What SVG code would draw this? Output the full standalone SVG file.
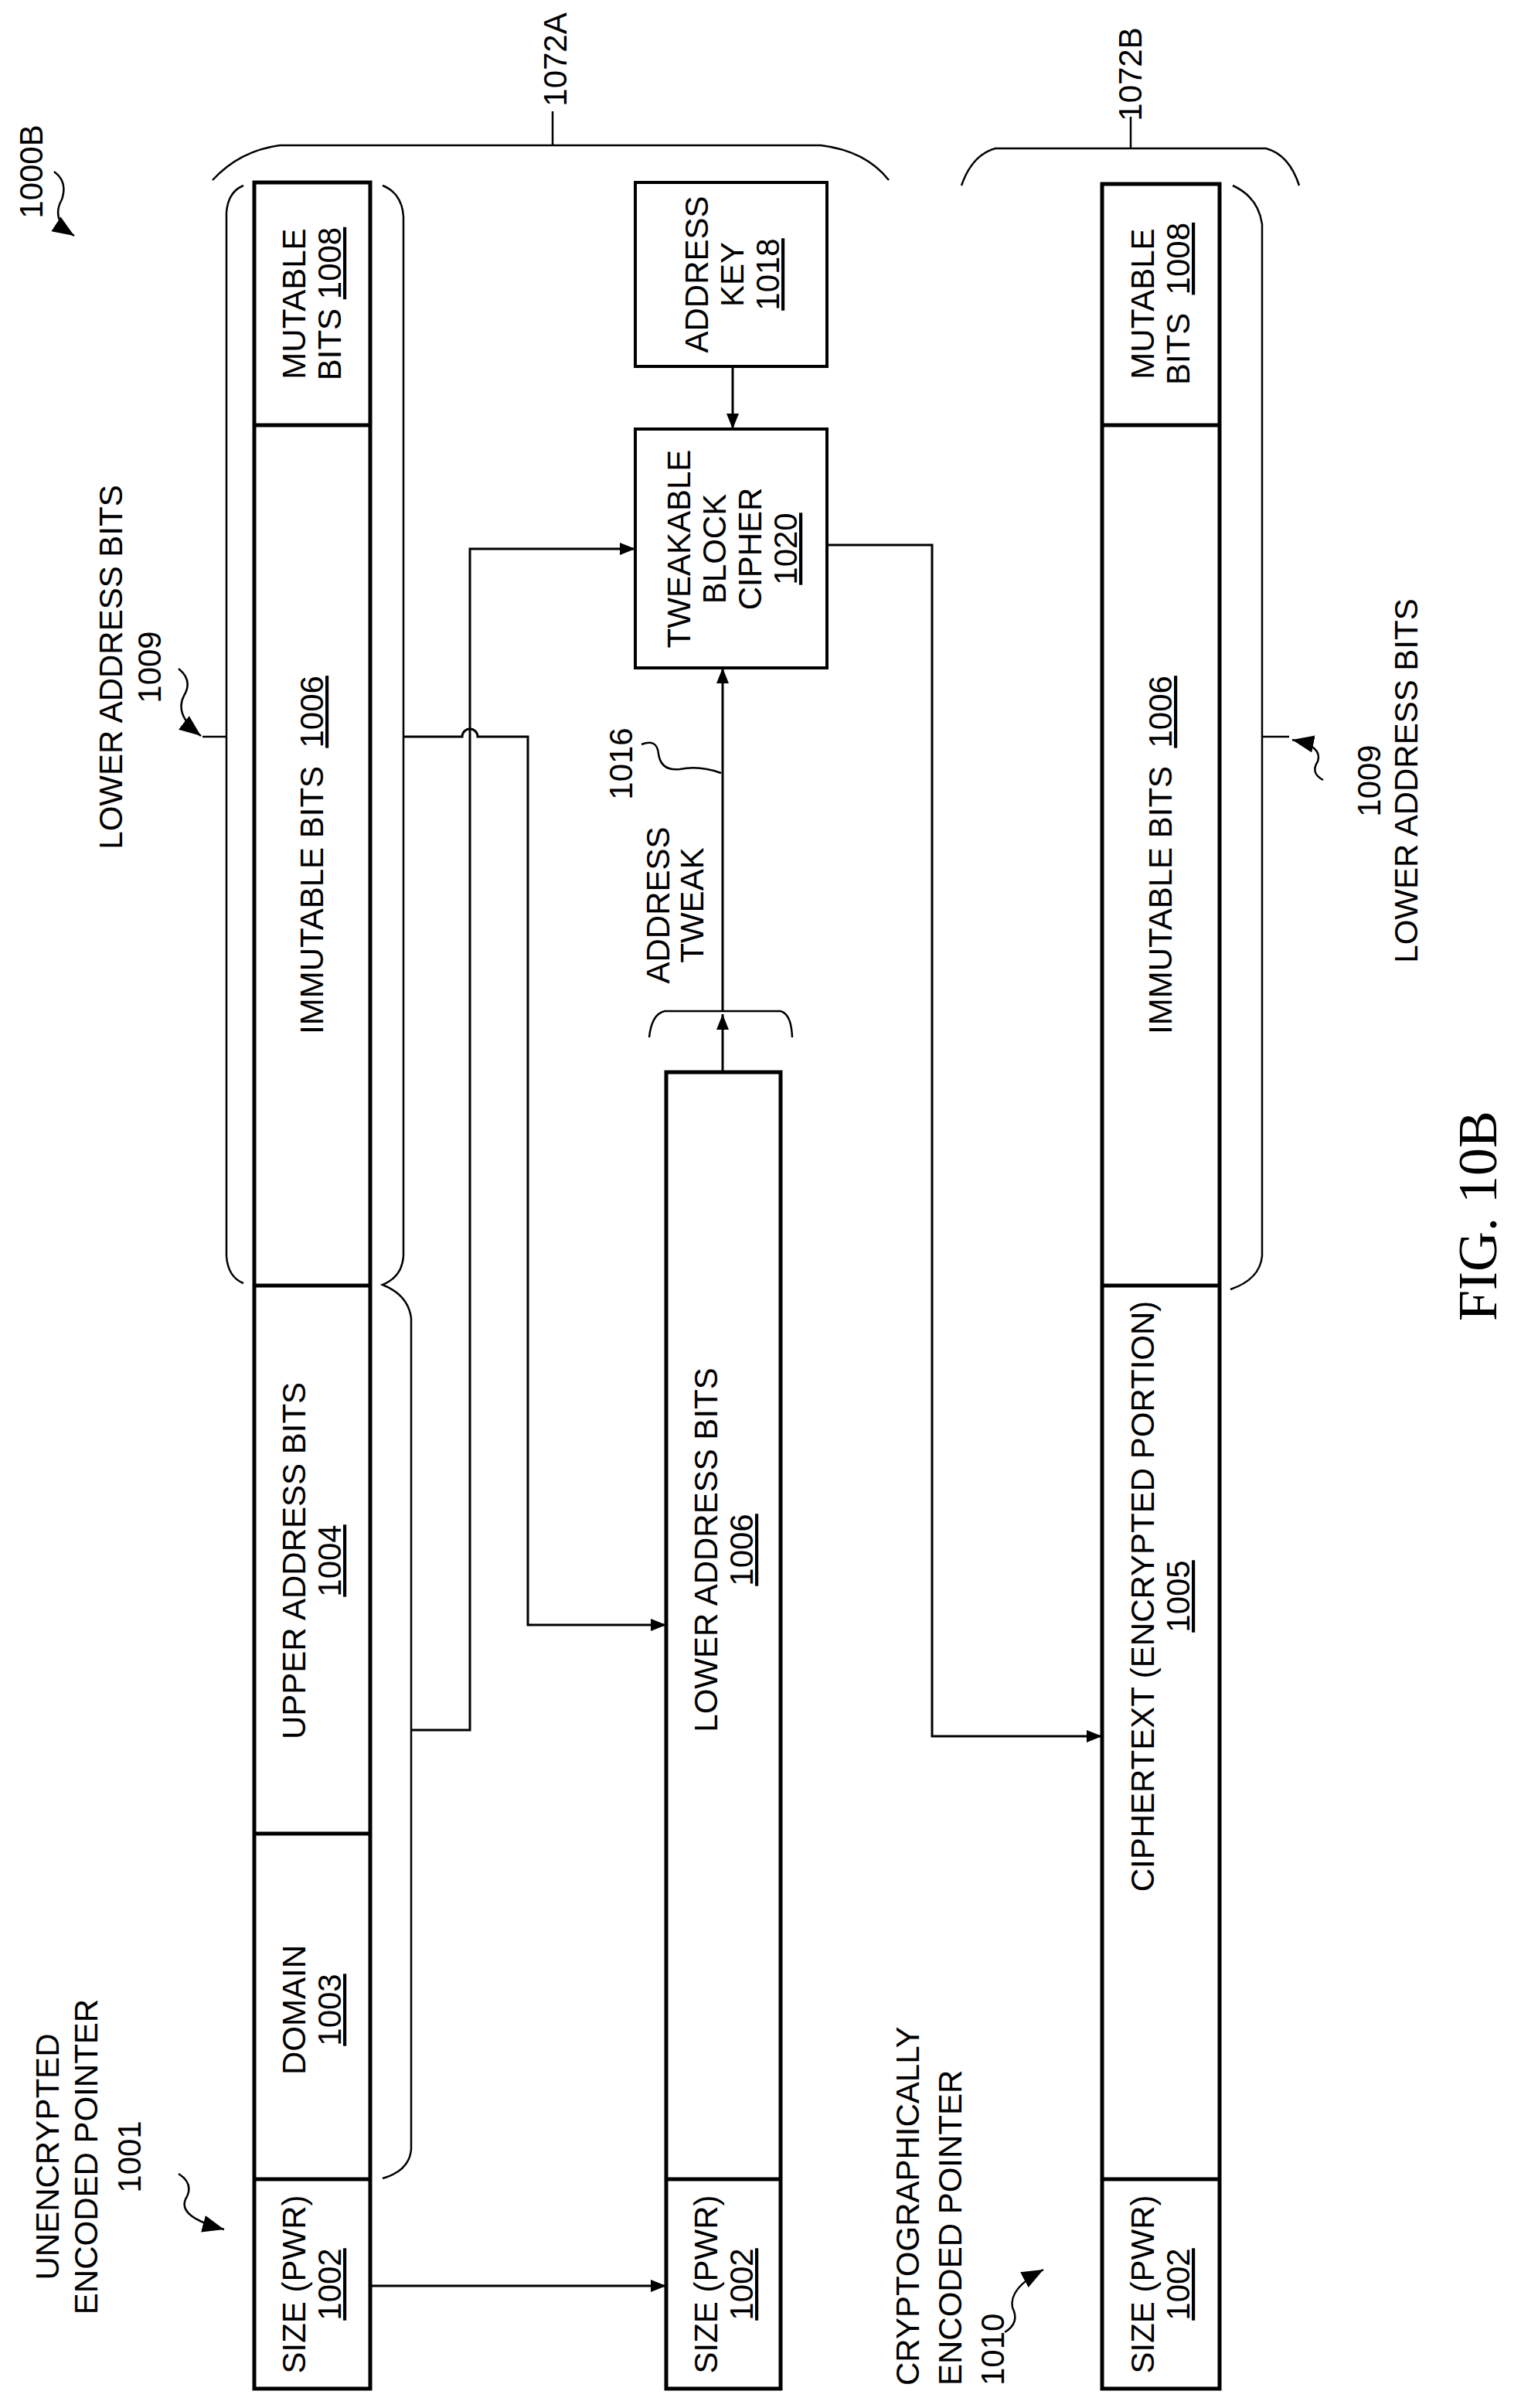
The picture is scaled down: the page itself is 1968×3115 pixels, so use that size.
<svg xmlns="http://www.w3.org/2000/svg" width="1968" height="3115" viewBox="0 0 1968 3115">
<style>
text{font-family:"Liberation Sans",Arial,sans-serif;font-size:42px;fill:#000}
.fig{font-family:"Liberation Serif","Times New Roman",serif;font-size:72px}
.bar{fill:#fff;stroke:#000;stroke-width:5}
.div{stroke:#000;stroke-width:5}
.box{fill:#fff;stroke:#000;stroke-width:4}
.c{fill:none;stroke:#000;stroke-width:3}
.b{fill:none;stroke:#000;stroke-width:2.5}
.u{text-decoration:underline}
</style>
<defs>
<marker id="ah" viewBox="0 0 20 16" refX="20" refY="8" markerWidth="22" markerHeight="16" markerUnits="userSpaceOnUse" orient="auto"><path d="M0,0 L20,8 L0,16 Z" fill="#000"/></marker>
<marker id="ah2" viewBox="0 0 20 16" refX="20" refY="8" markerWidth="28" markerHeight="24" markerUnits="userSpaceOnUse" orient="auto"><path d="M0,0 L20,8 L0,16 Z" fill="#000"/></marker>
</defs>
<rect width="1968" height="3115" fill="#fff"/>

<g id="pointer1001">
<rect class="bar" x="329" y="236" width="150" height="2854"/>
<line class="div" x1="329" y1="550" x2="479" y2="550"/>
<line class="div" x1="329" y1="1663" x2="479" y2="1663"/>
<line class="div" x1="329" y1="2372" x2="479" y2="2372"/>
<line class="div" x1="329" y1="2819" x2="479" y2="2819"/>
<text transform="translate(0,393) rotate(-90)" text-anchor="middle"><tspan x="0" y="395">MUTABLE</tspan><tspan x="0" y="441">BITS <tspan class="u">1008</tspan></tspan></text>
<text transform="translate(0,1106) rotate(-90)" text-anchor="middle" xml:space="preserve"><tspan x="0" y="418">IMMUTABLE BITS  <tspan class="u">1006</tspan></tspan></text>
<text transform="translate(0,2019) rotate(-90)" text-anchor="middle"><tspan x="0" y="395">UPPER ADDRESS BITS</tspan><tspan x="0" y="441" class="u">1004</tspan></text>
<text transform="translate(0,2600) rotate(-90)" text-anchor="middle"><tspan x="0" y="395">DOMAIN</tspan><tspan x="0" y="441" class="u">1003</tspan></text>
<text transform="translate(0,2955) rotate(-90)" text-anchor="middle"><tspan x="0" y="395">SIZE (PWR)</tspan><tspan x="0" y="441" class="u">1002</tspan></text>
</g>

<g id="pointer-mid">
<rect class="bar" x="862" y="1387" width="148" height="1703"/>
<line class="div" x1="862" y1="2819" x2="1010" y2="2819"/>
<text transform="translate(0,2005) rotate(-90)" text-anchor="middle"><tspan x="0" y="928">LOWER ADDRESS BITS</tspan><tspan x="0" y="974" class="u">1006</tspan></text>
<text transform="translate(0,2955) rotate(-90)" text-anchor="middle"><tspan x="0" y="928">SIZE (PWR)</tspan><tspan x="0" y="974" class="u">1002</tspan></text>
</g>

<g id="pointer1010">
<rect class="bar" x="1426" y="238" width="152" height="2852"/>
<line class="div" x1="1426" y1="550" x2="1578" y2="550"/>
<line class="div" x1="1426" y1="1663" x2="1578" y2="1663"/>
<line class="div" x1="1426" y1="2819" x2="1578" y2="2819"/>
<text transform="translate(0,393) rotate(-90)" text-anchor="middle" xml:space="preserve"><tspan x="0" y="1493">MUTABLE</tspan><tspan x="0" y="1539">BITS  <tspan class="u">1008</tspan></tspan></text>
<text transform="translate(0,1106) rotate(-90)" text-anchor="middle" xml:space="preserve"><tspan x="0" y="1516">IMMUTABLE BITS  <tspan class="u">1006</tspan></tspan></text>
<text transform="translate(0,2065) rotate(-90)" text-anchor="middle"><tspan x="0" y="1493">CIPHERTEXT (ENCRYPTED PORTION)</tspan><tspan x="0" y="1539" class="u">1005</tspan></text>
<text transform="translate(0,2955) rotate(-90)" text-anchor="middle"><tspan x="0" y="1493">SIZE (PWR)</tspan><tspan x="0" y="1539" class="u">1002</tspan></text>
</g>

<g id="key1018">
<rect class="box" x="822" y="236" width="248" height="238"/>
<text transform="translate(0,355) rotate(-90)" text-anchor="middle"><tspan x="0" y="916">ADDRESS</tspan><tspan x="0" y="962">KEY</tspan><tspan x="0" y="1008" class="u">1018</tspan></text>
</g>

<g id="cipher1020">
<rect class="box" x="822" y="555" width="248" height="309"/>
<text transform="translate(0,710) rotate(-90)" text-anchor="middle"><tspan x="0" y="893">TWEAKABLE</tspan><tspan x="0" y="939">BLOCK</tspan><tspan x="0" y="985">CIPHER</tspan><tspan x="0" y="1031" class="u">1020</tspan></text>
</g>

<g id="braces">
<path class="b" d="M275,233 Q310,195 362,188 H1062 Q1120,195 1150,233"/>
<line class="b" x1="715" y1="144" x2="715" y2="188"/>
<path class="b" d="M1244,240 Q1258,200 1288,192 H1638 Q1668,200 1681,240"/>
<line class="b" x1="1463" y1="151" x2="1463" y2="192"/>
<path class="b" d="M315,240 Q295,248 293,275 V1625 Q295,1652 315,1660"/>
<path class="b" d="M495,240 Q520,250 522,280 V1625 Q520,1652 495,1662 Q528,1675 532,1705 V2780 Q530,2808 495,2818"/>
<path class="b" d="M1595,240 Q1628,255 1633,290 V1625 Q1630,1655 1592,1668"/>
<path class="b" d="M840,1342 Q843,1312 860,1308 H1010 Q1024,1312 1025,1342"/>
</g>

<g id="connectors">
<line class="c" x1="948" y1="474" x2="948" y2="555" marker-end="url(#ah)"/>
<line class="c" x1="479" y1="2957" x2="862" y2="2957" marker-end="url(#ah)"/>
<path class="c" d="M532,2238 H608 V710 H822" marker-end="url(#ah)"/>
<path class="c" d="M522,953 H598 A10,10 0 0 1 618,953 H683 V2102 H862" marker-end="url(#ah)"/>
<path class="c" d="M1070,705 H1206 V2246 H1426" marker-end="url(#ah)"/>
<line class="c" x1="935" y1="1387" x2="935" y2="1312" marker-end="url(#ah)"/>
<line class="c" x1="935" y1="1308" x2="935" y2="864" marker-end="url(#ah)"/>
<path class="b" d="M830,963 Q850,955 852,975 Q855,998 880,995 Q905,990 933,1000"/>
<line class="b" x1="262" y1="953" x2="293" y2="953"/>
<path class="b" d="M231,865 Q250,880 238,900 Q225,925 260,952" marker-end="url(#ah2)"/>
<line class="b" x1="1633" y1="953" x2="1668" y2="953"/>
<path class="b" d="M1712,1009 Q1695,1000 1705,985 Q1712,965 1672,957" marker-end="url(#ah2)"/>
<path class="b" d="M70,222 Q88,235 80,258 Q65,285 96,305" marker-end="url(#ah2)"/>
<path class="b" d="M231,2812 Q252,2825 240,2845 Q230,2868 290,2884" marker-end="url(#ah2)"/>
<path class="b" d="M1300,3017 Q1320,3005 1310,2985 Q1305,2960 1350,2936" marker-end="url(#ah2)"/>
</g>

<g id="labels">
<text transform="translate(0,222) rotate(-90)" text-anchor="middle"><tspan x="0" y="55">1000B</tspan></text>
<text transform="translate(0,77) rotate(-90)" text-anchor="middle"><tspan x="0" y="733">1072A</tspan></text>
<text transform="translate(0,96) rotate(-90)" text-anchor="middle"><tspan x="0" y="1477">1072B</tspan></text>
<text transform="translate(0,863) rotate(-90)" text-anchor="middle"><tspan x="0" y="158">LOWER ADDRESS BITS</tspan><tspan x="0" y="208">1009</tspan></text>
<text transform="translate(0,1010) rotate(-90)" text-anchor="middle"><tspan x="0" y="1786">1009</tspan><tspan x="0" y="1834">LOWER ADDRESS BITS</tspan></text>
<text transform="translate(0,988) rotate(-90)" text-anchor="middle"><tspan x="0" y="818">1016</tspan></text>
<text transform="translate(0,1171) rotate(-90)" text-anchor="middle"><tspan x="0" y="866">ADDRESS</tspan><tspan x="0" y="910">TWEAK</tspan></text>
<text transform="translate(0,2790) rotate(-90)" text-anchor="middle"><tspan x="0" y="76">UNENCRYPTED</tspan><tspan x="0" y="126">ENCODED POINTER</tspan><tspan x="0" y="182">1001</tspan></text>
<text transform="translate(0,3086) rotate(-90)" text-anchor="start"><tspan x="0" y="1189">CRYPTOGRAPHICALLY</tspan><tspan x="0" y="1244">ENCODED POINTER</tspan><tspan x="0" y="1299">1010</tspan></text>
<text class="fig" transform="translate(0,1573) rotate(-90)" text-anchor="middle"><tspan x="0" y="1936">FIG. 10B</tspan></text>
</g>
</svg>
